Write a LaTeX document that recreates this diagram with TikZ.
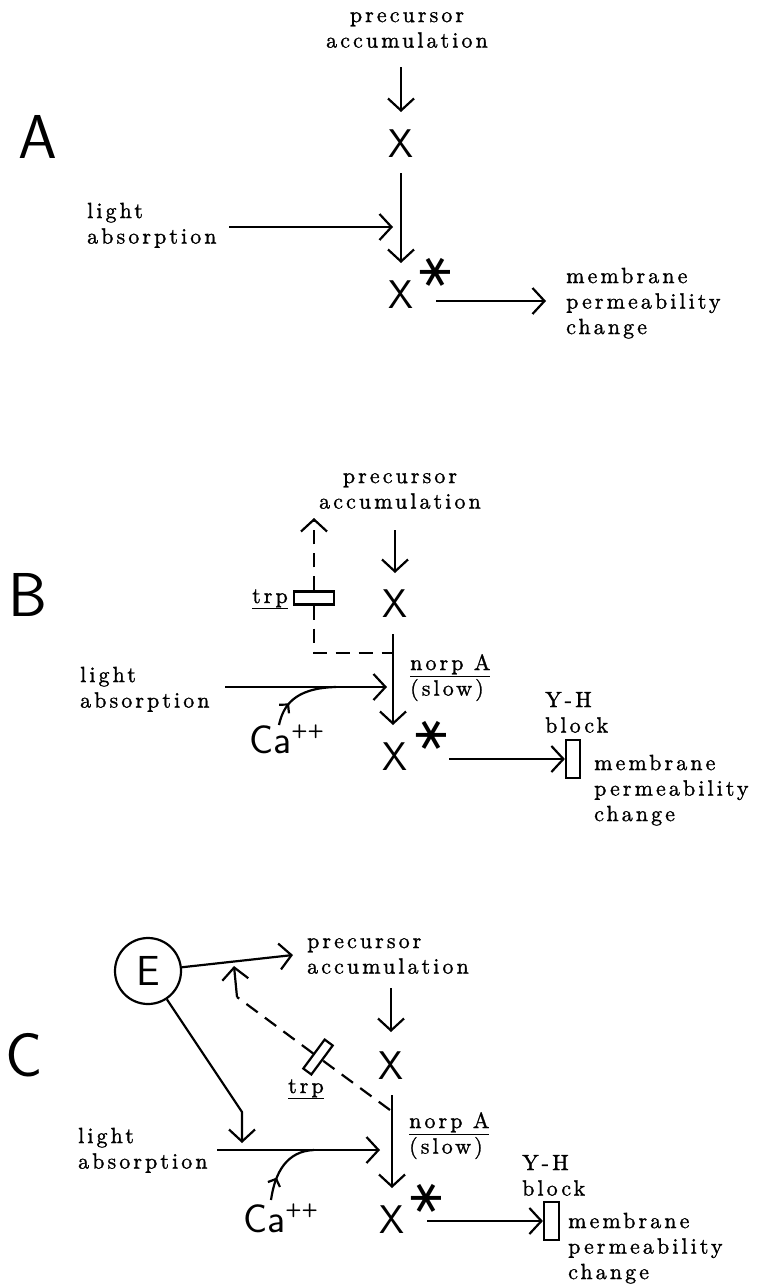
\documentclass[tikz,border=0pt]{standalone}
\usepackage{fontspec}
\usetikzlibrary{arrows.meta,decorations.markings}
\newfontfamily\twfont{lmroman10-regular.otf}[LetterSpace=14,FakeBold=1.2]
\newfontfamily\astfont{DejaVu Sans}
\newcommand\tw{\fontsize{22}{25.5}\selectfont\twfont}
\newcommand\xw{\fontsize{40}{40}\selectfont\sffamily}
\newcommand\bw{\fontsize{62}{62}\selectfont\sffamily}
\newcommand\ew{\fontsize{42}{42}\selectfont\sffamily}
\newcommand\cw{\fontsize{40}{40}\selectfont\sffamily}
\newcommand\sw{\fontsize{48}{48}\selectfont\astfont}
\newcommand\plusses{\raisebox{17pt}{\fontsize{19}{19}\selectfont\bfseries ++}}
\tikzset{
  ln/.style={line width=2pt},
  arr/.style={line width=2.2pt, -{Straight Barb[length=12pt,width=26pt,line width=2.2pt]}},
  dsh/.style={line width=2.2pt, dash pattern=on 14pt off 9pt},
  txt/.style={font=\tw, inner sep=0pt, align=left, anchor=north west},
  ctxt/.style={font=\tw, inner sep=0pt, align=center, anchor=north},
  big/.style={font=\bw, inner sep=0pt},
  xs/.style={font=\xw, inner sep=0pt},
  star/.style={font=\sw, inner sep=0pt, rotate=90},
  blk/.style={draw, line width=2.2pt, inner sep=0pt},
  ca/.style={font=\cw, inner sep=0pt, anchor=base west},
  cam/.style={line width=2.2pt, decoration={markings, mark=at position 0.32 with {\arrow{Straight Barb[length=6pt,width=13pt,line width=2.2pt]}}}, postaction={decorate}},
}
\begin{document}
\begin{tikzpicture}[x=1pt,y=-1pt]
\fill[white] (0,0) rectangle (762,1285);
\useasboundingbox (0,0) rectangle (762,1285);

%% ---------------- Panel A ----------------
\node[big] (lA) at (38,137) {A};
\node[ctxt] (precA) at (407,4) {\strut precursor\\accumulation};
\node[xs] (XA1) at (401,144) {X};
\node[xs] (XA2) at (401,295) {X};
\node[star] (sA) at (435,272) {∗};
\node[txt] (lightA) at (87,200) {\strut light\\absorption};
\node[txt] (memA) at (566,265) {\strut membrane\\permeability\\change};
\coordinate (a1s) at (401,67);
\coordinate (a1e) at (401,112);
\coordinate (a2s) at (401,173);
\coordinate (a2e) at (401,263);
\coordinate (a3s) at (229,227);
\coordinate (a3e) at (393,227);
\coordinate (a4s) at (436,301);
\coordinate (a4e) at (546,301);
\draw[arr] (a1s) -- (a1e);
\draw[arr] (a2s) -- (a2e);
\draw[arr] (a3s) -- (a3e);
\draw[arr] (a4s) -- (a4e);

%% ---------------- Panel B ----------------
\node[big] (lB) at (28,595) {B};
\node[ctxt] (precB) at (400,465) {\strut precursor\\accumulation};
\node[xs] (XB1) at (395,604) {X};
\node[xs] (XB2) at (395,757) {X};
\node[star] (sB) at (431,735) {∗};
\node[txt] (lightB) at (80,664) {\strut light\\absorption};
\node[txt] (norpB) at (410,652) {\strut\underline{norp A}\\(slow)};
\node[txt] (yhB) at (545,689) {\strut Y-H\\block};
\node[txt] (memB) at (594,752) {\strut membrane\\permeability\\change};
\node[font=\tw, inner sep=0pt, anchor=base east] (trplB) at (288,603) {\underline{trp}};
\node[blk, minimum width=40pt, minimum height=13pt] (trpB) at (314,598) {};
\node[blk, minimum width=14pt, minimum height=38pt] (ybB) at (573,759) {};
\node[ca] (caB) at (249,753) {Ca\plusses};
\coordinate (b1s) at (395,530);
\coordinate (b1e) at (395,573);
\coordinate (b2s) at (393,634);
\coordinate (b2e) at (393,725);
\coordinate (b3s) at (225,687);
\coordinate (b3e) at (387,687);
\coordinate (b4s) at (449,759);
\coordinate (bTip) at (314,518);
\coordinate (bCorn) at (314,653);
\coordinate (bJoin) at (393,653);
\coordinate (bCa1) at (279,725);
\coordinate (bCa2) at (336,687);
\draw[arr] (b1s) -- (b1e);
\draw[arr] (b2s) -- (b2e);
\draw[arr] (b3s) -- (b3e);
\draw[arr] (b4s) -- (ybB.west);
\draw[dsh, -{Straight Barb[length=12pt,width=26pt,line width=2.2pt]}] (trpB.north) -- (bTip);
\draw[dsh] (trpB.south) -- (bCorn) -- (bJoin);
\draw[cam] (bCa1) .. controls (283,707) and (293,688) .. (bCa2);

%% ---------------- Panel C ----------------
\node[big] (lC) at (24,1055) {C};
\node[circle, draw, line width=2.2pt, minimum size=66pt, inner sep=0pt, font=\ew] (E) at (148,971) {E};
\node[txt] (precC) at (307,930) {\strut precursor\\accumulation};
\node[xs] (XC1) at (391,1066) {X};
\node[xs] (XC2) at (392,1220) {X};
\node[star] (sC) at (426,1198) {∗};
\node[txt] (lightC) at (78,1125) {\strut light\\absorption};
\node[txt] (norpC) at (409,1110) {\strut\underline{norp A}\\(slow)};
\node[txt] (yhC) at (522,1152) {\strut Y-H\\block};
\node[txt] (memC) at (568,1210) {\strut membrane\\permeability\\change};
\node[font=\tw, inner sep=0pt, anchor=base west] (trplC) at (288,1093) {\underline{trp}};
\node[blk, minimum width=36pt, minimum height=10pt, rotate=53.6] (trpC) at (318,1057) {};
\node[blk, minimum width=15pt, minimum height=38pt] (ybC) at (551.5,1221) {};
\node[ca] (caC) at (243,1232) {Ca\plusses};
\coordinate (eTip) at (293,955);
\coordinate (eBend) at (242,1112);
\coordinate (eTip2) at (242,1143);
\coordinate (c1s) at (391,988);
\coordinate (c1e) at (391,1032);
\coordinate (c2s) at (392,1095);
\coordinate (c2e) at (392,1188);
\coordinate (c3s) at (217,1150);
\coordinate (c3e) at (380,1150);
\coordinate (c4s) at (427,1221);
\coordinate (cJoin) at (390,1110);
\coordinate (cCorn) at (237,997);
\coordinate (cTip) at (234,966);
\coordinate (cCa1) at (271,1200);
\coordinate (cCa2) at (314,1150);
\draw[arr] (E) -- (eTip);
\draw[arr] (E) -- (eBend) -- (eTip2);
\draw[arr] (c1s) -- (c1e);
\draw[arr] (c2s) -- (c2e);
\draw[arr] (c3s) -- (c3e);
\draw[arr] (c4s) -- (ybC.west);
\draw[dsh] (cJoin) -- (trpC);
\draw[dsh] (trpC) -- (cCorn);
\draw[arr] (cCorn) -- (cTip);
\draw[cam] (cCa1) .. controls (275,1172) and (287,1151) .. (cCa2);
\end{tikzpicture}
\end{document}
